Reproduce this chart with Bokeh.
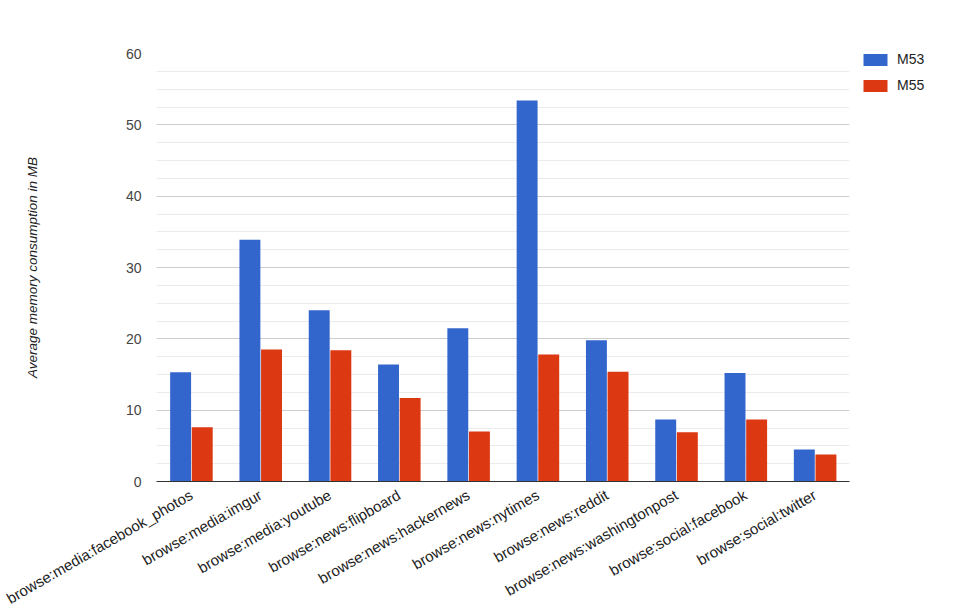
import math
from bokeh.plotting import figure
from bokeh.models import (ColumnDataSource, FactorRange, Range1d, SingleIntervalTicker,
                          Legend, LegendItem)
from bokeh.transform import dodge
from bokeh.embed import file_html
from bokeh.resources import INLINE

categories = [
    "browse:media:facebook_photos",
    "browse:media:imgur",
    "browse:media:youtube",
    "browse:news:flipboard",
    "browse:news:hackernews",
    "browse:news:nytimes",
    "browse:news:reddit",
    "browse:news:washingtonpost",
    "browse:social:facebook",
    "browse:social:twitter",
]
m53 = [15.3, 33.9, 24.0, 16.4, 21.5, 53.4, 19.8, 8.7, 15.2, 4.5]
m55 = [7.6, 18.5, 18.4, 11.7, 7.0, 17.8, 15.4, 6.9, 8.7, 3.8]
series_names = ["M53", "M55"]
y_title = "Average memory consumption in MB"

source = ColumnDataSource(dict(cat=categories, m53=m53, m55=m55))

FONT = "Liberation Sans"

p = figure(
    x_range=FactorRange(*categories, range_padding=0),
    y_range=Range1d(0, 60),
    frame_width=693, frame_height=428,
    output_backend="svg", toolbar_location=None,
    min_border_left=156, min_border_right=99,
    min_border_top=53, min_border_bottom=112,
)
p.outline_line_color = None
p.background_fill_color = "white"
p.border_fill_color = "white"

r1 = p.vbar(x=dodge("cat", -0.152, range=p.x_range), top="m53", width=0.302,
            source=source, fill_color="#3366CC", line_color=None)
r2 = p.vbar(x=dodge("cat", 0.16, range=p.x_range), top="m55", width=0.302,
            source=source, fill_color="#DC3912", line_color=None)

# y axis
p.yaxis.ticker = SingleIntervalTicker(interval=10, num_minor_ticks=4)
p.yaxis.axis_line_color = None
p.yaxis.major_tick_line_color = None
p.yaxis.minor_tick_line_color = None
p.yaxis.major_tick_out = 0
p.yaxis.minor_tick_out = 0
p.yaxis.major_label_standoff = 15
p.yaxis.major_label_text_font = FONT
p.yaxis.major_label_text_font_size = "14px"
p.yaxis.major_label_text_color = "#444444"
p.yaxis.axis_label = y_title
p.yaxis.axis_label_text_font = FONT
p.yaxis.axis_label_text_font_size = "13.5px"
p.yaxis.axis_label_text_font_style = "italic"
p.yaxis.axis_label_text_color = "#222222"
p.yaxis.axis_label_standoff = 83

p.ygrid.grid_line_color = "#cccccc"
p.ygrid.minor_grid_line_color = "#ebebeb"
p.xgrid.grid_line_color = None

# x axis
p.xaxis.axis_line_color = "#333333"
p.xaxis.axis_line_width = 1
p.xaxis.major_tick_line_color = None
p.xaxis.minor_tick_line_color = None
p.xaxis.major_label_orientation = math.pi / 6
p.xaxis.major_label_standoff = 6
p.xaxis.major_label_text_font = FONT
p.xaxis.major_label_text_font_size = "15px"
p.xaxis.major_label_text_color = "#222222"

legend = Legend(items=[LegendItem(label=series_names[0], renderers=[r1]),
                       LegendItem(label=series_names[1], renderers=[r2])],
                location=(11, 388))
legend.glyph_width = 30
legend.glyph_height = 15
legend.label_standoff = 7
legend.spacing = 10
legend.padding = 0
legend.margin = 0
legend.border_line_color = None
legend.background_fill_alpha = 0
legend.label_text_font = FONT
legend.label_text_font_size = "14px"
legend.label_text_color = "#222222"
legend.label_height = 15
p.add_layout(legend, "right")

open("out.html", "w").write(file_html(p, INLINE))
